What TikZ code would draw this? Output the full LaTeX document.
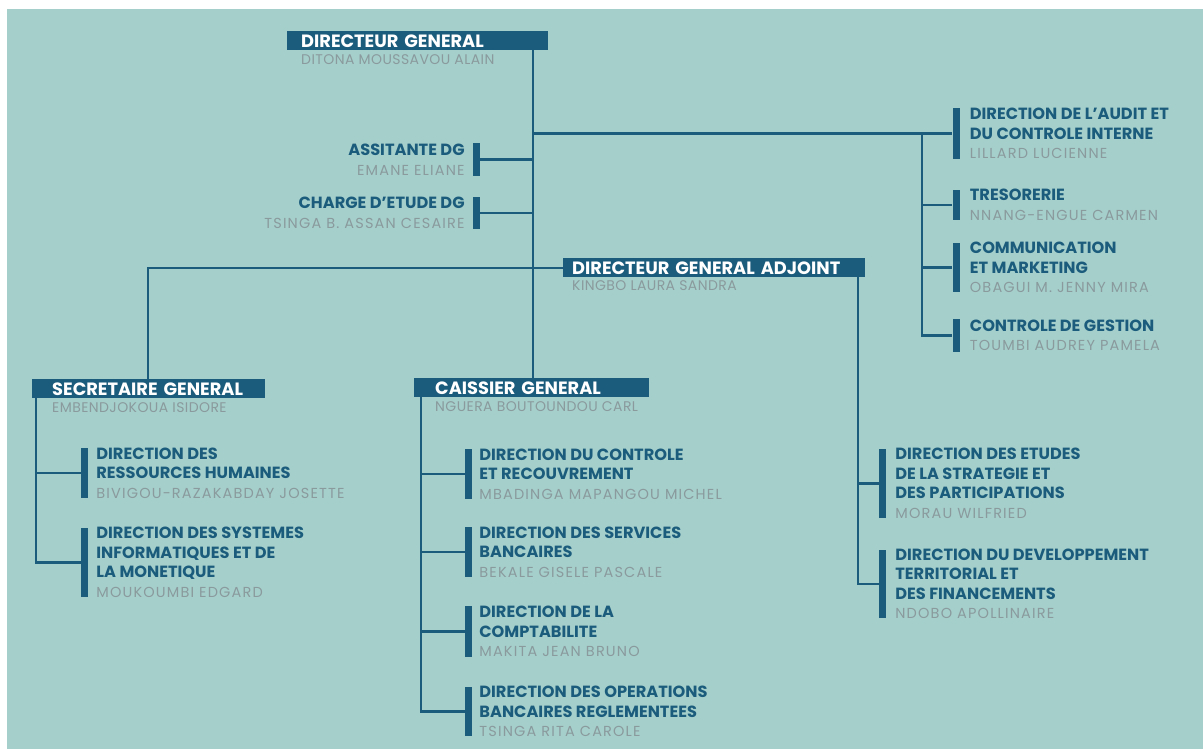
\documentclass[tikz,border=0pt]{standalone}
\usepackage{fontspec}
\setmainfont{Poppins}
\usetikzlibrary{positioning}
\definecolor{bgteal}{HTML}{A5CFCB}
\definecolor{navy}{HTML}{1B5C7C}
\definecolor{namegray}{HTML}{8A9A9D}
\newcommand{\who}{\mdseries\color{namegray}\fontsize{14.5}{19.5}\selectfont\addfontfeatures{LetterSpace=8}}

\begin{document}
\begin{tikzpicture}[x=1pt,y=-1pt,
    head/.style={fill=navy,text=white,font=\fontsize{17.8}{19}\selectfont\bfseries,anchor=north west,inner ysep=0pt,minimum height=19pt,text depth=0pt,align=left},
    headname/.style={anchor=west,inner sep=0pt,font=\fontsize{14}{16}\selectfont\addfontfeatures{LetterSpace=3},text=namegray},
    bar/.style={fill=navy,minimum width=7pt,inner sep=0pt},
    post/.style={inner sep=0pt,align=left,font=\fontsize{16.2}{19.5}\selectfont\bfseries,text=navy},
    link/.style={draw=navy,line width=2.3pt}]
  \useasboundingbox (0,0) rectangle (1203,749);
  \fill[white] (0,0) rectangle (1203,749);
  \fill[bgteal] (7,9) rectangle (1203,749);

  \coordinate (dgline) at (533,0);
  \coordinate (rline) at (922,0);
  \coordinate (sgline) at (148,0);
  \coordinate (dgaline) at (858,0);
  \coordinate (sgsub) at (36,0);
  \coordinate (cgsub) at (421,0);

  \node[head,inner xsep=14pt,text width=233pt] (dg) at (287,31) {DIRECTEUR GENERAL};
  \node[headname] (dgname) at (301,60) {DITONA MOUSSAVOU ALAIN};
  \node[head,inner xsep=9pt,text width=284pt] (dga) at (563,258) {DIRECTEUR GENERAL ADJOINT};
  \node[headname] (dganame) at (572,286) {KINGBO LAURA SANDRA};
  \node[head,inner xsep=20pt,text width=193pt] (sg) at (32,379) {SECRETAIRE GENERAL};
  \node[headname] (sgname) at (52,408) {EMBENDJOKOUA ISIDORE};
  \node[head,inner xsep=21pt,text width=193pt] (cg) at (414,378) {CAISSIER GENERAL};
  \node[headname] (cgname) at (435,407) {NGUERA BOUTOUNDOU CARL};

  \node[bar,minimum height=33pt] (asbar) at (476.5,159.5) {};
  \node[post,align=right,left=8pt of asbar] (as) {ASSITANTE DG\\\who EMANE ELIANE};
  \node[bar,minimum height=32pt] (chbar) at (476.5,213) {};
  \node[post,align=right,left=8pt of chbar] (ch) {CHARGE D’ETUDE DG\\\who TSINGA B. ASSAN CESAIRE};

  \node[bar,minimum height=51pt] (auditbar) at (956,133.5) {};
  \node[post,right=10pt of auditbar] (audit) {DIRECTION DE L’AUDIT ET\\DU CONTROLE INTERNE\\\who LILLARD LUCIENNE};
  \node[bar,minimum height=30pt] (tresbar) at (956,205) {};
  \node[post,right=10pt of tresbar] (tres) {TRESORERIE\\\who NNANG-ENGUE CARMEN};
  \node[bar,minimum height=49pt] (commbar) at (956,267.5) {};
  \node[post,right=10pt of commbar] (comm) {COMMUNICATION\\ET MARKETING\\\who OBAGUI M. JENNY MIRA};
  \node[bar,minimum height=33pt] (gestbar) at (956,335.5) {};
  \node[post,right=10pt of gestbar] (gest) {CONTROLE DE GESTION\\\who TOUMBI AUDREY PAMELA};

  \node[bar,minimum height=69pt] (etbar) at (882.5,483.5) {};
  \node[post,right=9pt of etbar] (et) {DIRECTION DES ETUDES\\DE LA STRATEGIE ET\\DES PARTICIPATIONS\\\who MORAU WILFRIED};
  \node[bar,minimum height=68pt] (devbar) at (882.5,584) {};
  \node[post,right=9pt of devbar] (dev) {DIRECTION DU DEVELOPPEMENT\\TERRITORIAL ET\\DES FINANCEMENTS\\\who NDOBO APOLLINAIRE};

  \node[bar,minimum height=50pt] (rhbar) at (84.5,473) {};
  \node[post,right=8pt of rhbar] (rh) {DIRECTION DES\\RESSOURCES HUMAINES\\\who BIVIGOU-RAZAKABDAY JOSETTE};
  \node[bar,minimum height=69pt] (sibar) at (84.5,562.5) {};
  \node[post,right=8pt of sibar] (si) {DIRECTION DES SYSTEMES\\INFORMATIQUES ET DE\\LA MONETIQUE\\\who MOUKOUMBI EDGARD};

  \node[bar,minimum height=50pt] (crbar) at (468.5,474) {};
  \node[post,right=7pt of crbar] (cr) {DIRECTION DU CONTROLE\\ET RECOUVREMENT\\\who MBADINGA MAPANGOU MICHEL};
  \node[bar,minimum height=50pt] (sbbar) at (468.5,552) {};
  \node[post,right=7pt of sbbar] (sb) {DIRECTION DES SERVICES\\BANCAIRES\\\who BEKALE GISELE PASCALE};
  \node[bar,minimum height=51pt] (cptbar) at (468.5,631.5) {};
  \node[post,right=7pt of cptbar] (cpt) {DIRECTION DE LA\\COMPTABILITE\\\who MAKITA JEAN BRUNO};
  \node[bar,minimum height=49pt] (obrbar) at (468.5,711.5) {};
  \node[post,right=7pt of obrbar] (obr) {DIRECTION DES OPERATIONS\\BANCAIRES REGLEMENTEES\\\who TSINGA RITA CAROLE};

  \draw[link] (dg.south -| dgline) -- (dgline |- cg.north);
  \draw[link] (dgline |- auditbar) -- (auditbar.west);
  \draw[link] (asbar.east) -- (asbar -| dgline);
  \draw[link] (chbar.east) -- (chbar -| dgline);
  \draw[link] (rline |- auditbar) |- (gestbar.west);
  \draw[link] (rline |- tresbar) -- (tresbar.west);
  \draw[link] (rline |- commbar) -- (commbar.west);
  \draw[link] (sgline |- sg.north) |- (dga.west);
  \draw[link] (dga.south -| dgaline) |- (devbar.west);
  \draw[link] (dgaline |- etbar) -- (etbar.west);
  \draw[link] (sg.south -| sgsub) |- (sibar.west);
  \draw[link] (sgsub |- rhbar) -- (rhbar.west);
  \draw[link] (cg.south -| cgsub) |- (obrbar.west);
  \draw[link] (cgsub |- crbar) -- (crbar.west);
  \draw[link] (cgsub |- sbbar) -- (sbbar.west);
  \draw[link] (cgsub |- cptbar) -- (cptbar.west);
\end{tikzpicture}
\end{document}
